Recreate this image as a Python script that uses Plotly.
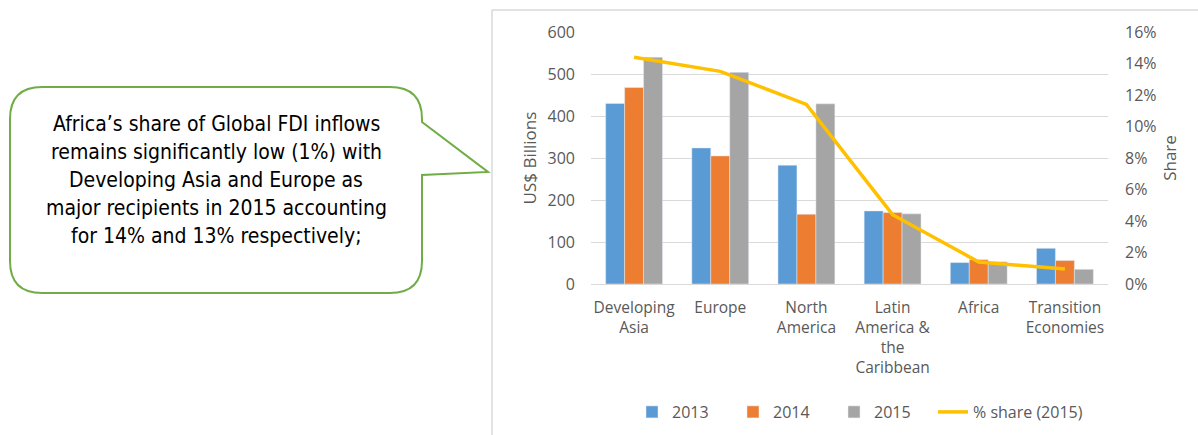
import plotly.graph_objects as go

categories = ["Developing<br>Asia", "Europe", "North<br>America",
              "Latin<br>America &<br>the<br>Caribbean", "Africa",
              "Transition<br>Economies"]
fdi_2013 = [430, 324, 283, 174, 51, 85]
fdi_2014 = [468, 305, 166, 170, 58, 56]
fdi_2015 = [540, 504, 429, 167, 53, 35]
share_2015 = [0.144, 0.135, 0.114, 0.044, 0.014, 0.0095]
callout_lines = [
    "Africa\u2019s share of Global FDI inflows",
    "remains significantly low (1%) with",
    "Developing Asia and Europe as",
    "major recipients in 2015 accounting",
    "for 14% and 13% respectively;",
]

W, H = 1198, 435
L, R, T, B = 591, 90, 32, 151
PW, PH = W - L - R, H - T - B


def px(x):
    return (x - L) / PW


def py(y):
    return (H - B - y) / PH


GRAY_TXT = "#595959"
GRID = "#D9D9D9"
FONT = "Open Sans"

fig = go.Figure()
fig.add_trace(go.Bar(x=categories, y=fdi_2013, name="2013", marker_color="#5B9BD5"))
fig.add_trace(go.Bar(x=categories, y=fdi_2014, name="2014", marker_color="#ED7D31"))
fig.add_trace(go.Bar(x=categories, y=fdi_2015, name="2015", marker_color="#A5A5A5"))
fig.add_trace(go.Scatter(x=categories, y=share_2015, name="% share (2015)", yaxis="y2",
                         mode="lines", line=dict(color="#FFC000", width=3.5),
                         legend="legend2"))

# callout bubble
r = 32
x0, x1, y0, y1 = 10, 422, 87, 293
tail_top, tip_x, tip_y, tail_bot = 122, 488, 172, 175
path = (
    f"M {px(x0 + r)},{py(y0)} L {px(x1 - r)},{py(y0)} "
    f"Q {px(x1)},{py(y0)} {px(x1)},{py(y0 + r)} "
    f"L {px(x1)},{py(tail_top)} L {px(tip_x)},{py(tip_y)} L {px(x1)},{py(tail_bot)} "
    f"L {px(x1)},{py(y1 - r)} Q {px(x1)},{py(y1)} {px(x1 - r)},{py(y1)} "
    f"L {px(x0 + r)},{py(y1)} Q {px(x0)},{py(y1)} {px(x0)},{py(y1 - r)} "
    f"L {px(x0)},{py(y0 + r)} Q {px(x0)},{py(y0)} {px(x0 + r)},{py(y0)} Z"
)
shapes = [
    dict(type="path", xref="paper", yref="paper", path=path,
         line=dict(color="#70AD47", width=2), fillcolor="white"),
    # chart frame
    dict(type="line", xref="paper", yref="paper", x0=px(492), x1=px(492), y0=py(10), y1=py(440),
         line=dict(color=GRID, width=1.5)),
    dict(type="line", xref="paper", yref="paper", x0=px(492), x1=px(1205), y0=py(10), y1=py(10),
         line=dict(color=GRID, width=1.5)),
]

annotations = []
line_centers = [124, 152, 180, 208, 236]
for txt, yc in zip(callout_lines, line_centers):
    annotations.append(dict(text=txt, xref="paper", yref="paper", x=px(216), y=py(yc),
                            xanchor="center", yanchor="middle", showarrow=False,
                            font=dict(family="DejaVu Sans Condensed", size=21, color="black")))

legend_common = dict(orientation="h", xref="container", yref="container",
                     xanchor="left", y=(H - 412) / H, yanchor="middle",
                     font=dict(size=16, color=GRAY_TXT), traceorder="normal")

fig.update_layout(
    width=W, height=H,
    margin=dict(l=L, r=R, t=T, b=B, autoexpand=False),
    paper_bgcolor="white", plot_bgcolor="white",
    barmode="group", bargap=0.34, bargroupgap=0,
    font=dict(family=FONT, size=16, color=GRAY_TXT),
    xaxis=dict(range=[-0.5, 5.5], showgrid=False, ticks="", tickfont=dict(size=15.5),
               showline=False, zeroline=False, ticklabelstandoff=12),
    yaxis=dict(range=[0, 600], dtick=100, gridcolor=GRID, gridwidth=1,
               zeroline=True, zerolinecolor=GRID, zerolinewidth=1,
               ticks="", ticklabelstandoff=15, tickfont=dict(size=16),
               title=dict(text="US$ Billions", font=dict(size=17, color=GRAY_TXT), standoff=6)),
    yaxis2=dict(range=[0, 0.16], dtick=0.02, tickformat=".0%", overlaying="y", side="right",
                showgrid=False, zeroline=False, ticks="", ticklabelstandoff=16,
                tickfont=dict(size=16),
                title=dict(text="Share", font=dict(size=17, color=GRAY_TXT), standoff=8)),
    legend=dict(**legend_common, x=632 / W, entrywidth=56, entrywidthmode="pixels"),
    legend2=dict(**legend_common, x=933 / W),
    shapes=shapes,
    annotations=annotations,
)

fig.write_html("out.html")
